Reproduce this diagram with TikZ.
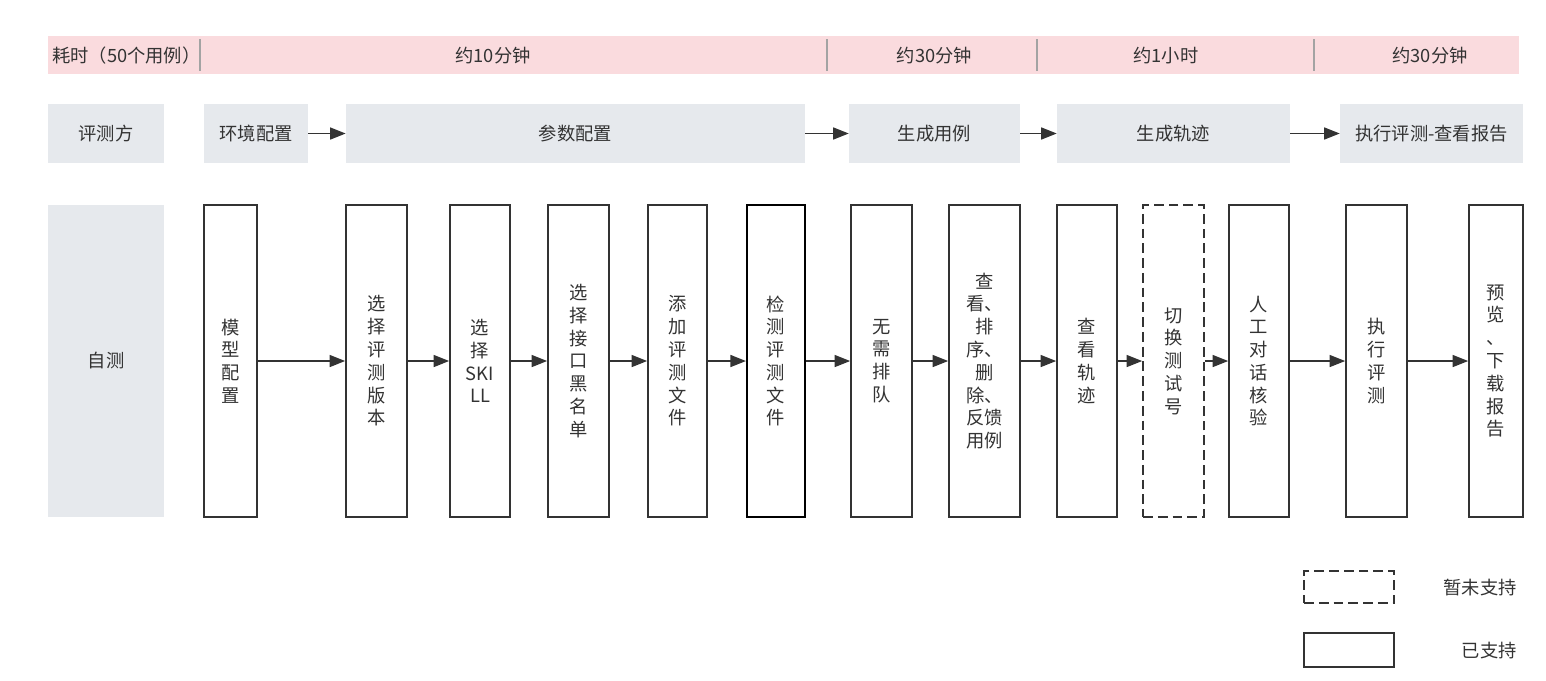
\documentclass[tikz,border=0pt]{standalone}
\usepackage{fontspec}
\setmainfont{Noto Sans CJK SC}
\usetikzlibrary{positioning, arrows.meta}
\definecolor{pinkbar}{HTML}{FADBDE}
\definecolor{graybox}{HTML}{E6E9ED}
\definecolor{linec}{HTML}{333333}
\definecolor{sepc}{HTML}{A3A3A3}

\begin{document}
\begin{tikzpicture}[x=0.025cm, y=-0.025cm, font=\fontsize{13}{16.2}\selectfont, text=linec,
  rowbox/.style={fill=graybox, minimum height=1.475cm, inner sep=0pt},
  stepcol/.style={draw=linec, line width=1.2pt, fill=white, minimum height=7.8cm, inner sep=0pt, align=center},
  todo/.style={dash pattern=on 7pt off 3.5pt},
  flow/.style={-{Triangle[length=11pt, width=8.5pt]}, draw=linec, line width=1pt}]
  \useasboundingbox (0,0) rectangle (1546,680);

  % time bar
  \fill[pinkbar] (48,36) rectangle (1519,74);
  \draw[sepc, line width=1.2pt] (200,39) -- (200,71); \draw[sepc, line width=1.2pt] (827,39) -- (827,71);
  \draw[sepc, line width=1.2pt] (1037,39) -- (1037,71); \draw[sepc, line width=1.2pt] (1314,39) -- (1314,71);
  \node[anchor=west, inner sep=0pt] (cost) at (52,56) {耗时（50个用例）};
  \node (t1) at (493,56) {约10分钟};
  \node (t2) at (934.5,56) {约30分钟};
  \node (t3) at (1166,56) {约1小时};
  \node (t4) at (1430,56) {约30分钟};

  % evaluator row
  \node[rowbox, minimum width=2.9cm] (side) at (106,133.5) {评测方};
  \node[rowbox, minimum width=2.6cm] (env) at (256,133.5) {环境配置};
  \node[rowbox, minimum width=11.475cm] (param) at (575.5,133.5) {参数配置};
  \node[rowbox, minimum width=4.275cm] (gencase) at (934.5,133.5) {生成用例};
  \node[rowbox, minimum width=5.825cm] (gentrace) at (1173.5,133.5) {生成轨迹};
  \node[rowbox, minimum width=4.575cm] (report) at (1431.5,133.5) {执行评测-查看报告};
  \draw[flow] (env) -- (param); \draw[flow] (param) -- (gencase);
  \draw[flow] (gencase) -- (gentrace); \draw[flow] (gentrace) -- (report);

  % self test row
  \node[rowbox, minimum width=2.9cm, minimum height=7.8cm] (self) at (106,361) {自测};
  \node[stepcol, minimum width=1.325cm] (s1) at (230.5,361) {模\\型\\配\\置};
  \node[stepcol, minimum width=1.525cm] (s2) at (376.5,361) {选\\择\\评\\测\\版\\本};
  \node[stepcol, minimum width=1.5cm] (s3) at (480,361) {选\\择\\SKI\\LL};
  \node[stepcol, minimum width=1.525cm] (s4) at (578.5,361) {选\\择\\接\\口\\黑\\名\\单};
  \node[stepcol, minimum width=1.475cm] (s5) at (677.5,361) {添\\加\\评\\测\\文\\件};
  \node[stepcol, minimum width=1.45cm, draw=black, line width=1.5pt] (s6) at (776,361) {检\\测\\评\\测\\文\\件};
  \node[stepcol, minimum width=1.525cm] (s7) at (881.5,361) {无\\需\\排\\队};
  \node[stepcol, minimum width=1.775cm] (s8) at (984.5,361) {查\\看、\\排\\序、\\删\\除、\\反馈\\用例};
  \node[stepcol, minimum width=1.5cm] (s9) at (1087,361) {查\\看\\轨\\迹};
  \node[stepcol, todo, minimum width=1.525cm] (s10) at (1173.5,361) {切\\换\\测\\试\\号};
  \node[stepcol, minimum width=1.5cm] (s11) at (1259,361) {人\\工\\对\\话\\核\\验};
  \node[stepcol, minimum width=1.525cm] (s12) at (1376.5,361) {执\\行\\评\\测};
  \node[stepcol, minimum width=1.35cm] (s13) at (1496,361) {预\\览\\、\\下\\载\\报\\告};
  \draw[flow] (s1) -- (s2); \draw[flow] (s2) -- (s3); \draw[flow] (s3) -- (s4);
  \draw[flow] (s4) -- (s5); \draw[flow] (s5) -- (s6); \draw[flow] (s6) -- (s7);
  \draw[flow] (s7) -- (s8); \draw[flow] (s8) -- (s9); \draw[flow] (s9) -- (s10);
  \draw[flow] (s10) -- (s11); \draw[flow] (s11) -- (s12); \draw[flow] (s12) -- (s13);

  % legend
  \node[draw=linec, line width=1.2pt, todo, minimum width=2.25cm, minimum height=0.8cm] (keytodo) at (1349,587) {};
  \node[anchor=east, inner sep=0pt] (keytodotxt) at (1517,588) {暂未支持};
  \node[draw=linec, line width=1.2pt, minimum width=2.25cm, minimum height=0.85cm] (keydone) at (1349,650) {};
  \node[anchor=east, inner sep=0pt] (keydonetxt) at (1517,651) {已支持};
\end{tikzpicture}
\end{document}
